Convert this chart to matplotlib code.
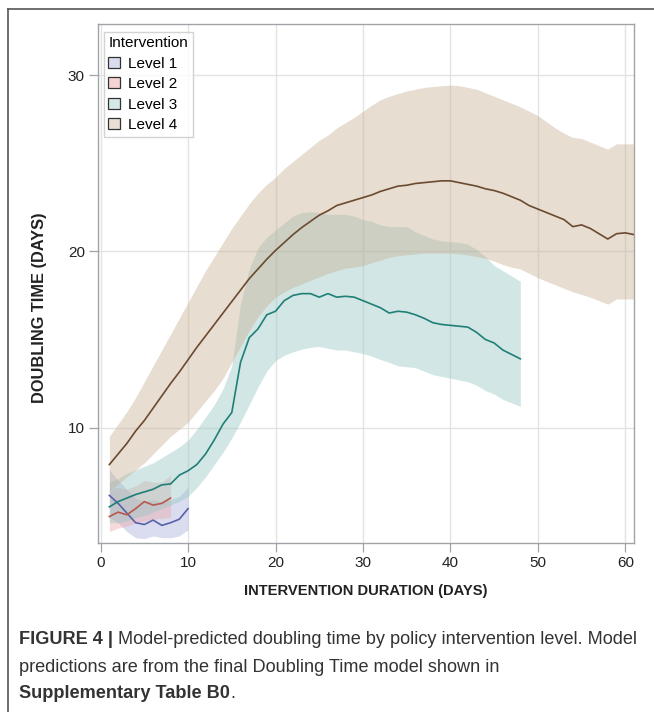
import numpy as np
import matplotlib
matplotlib.use("Agg")
import matplotlib.pyplot as plt
from matplotlib.patches import Patch
from matplotlib.lines import Line2D

plt.rcParams['font.family'] = ['Liberation Sans', 'DejaVu Sans']

# Level 1
days_l1 = [1, 2, 3, 4, 5, 6, 7, 8, 9, 10]
mean_l1 = [6.15, 5.7, 5.15, 4.6, 4.5, 4.75, 4.45, 4.6, 4.8, 5.4]
upper_l1 = [7.6, 7.0, 6.5, 6.0, 5.8, 5.9, 5.8, 5.9, 6.1, 6.6]
lower_l1 = [4.9, 4.6, 4.1, 3.75, 3.7, 3.85, 3.75, 3.75, 3.85, 4.2]

# Level 2
days_l2 = [1, 2, 3, 4, 5, 6, 7, 8]
mean_l2 = [4.95, 5.2, 5.05, 5.4, 5.8, 5.6, 5.7, 6.0]
upper_l2 = [6.5, 6.6, 6.5, 6.7, 7.0, 6.9, 6.9, 7.3]
lower_l2 = [4.1, 4.3, 4.4, 4.6, 4.7, 4.8, 4.85, 4.9]

# Level 3
days_l3 = list(range(1, 49))
mean_l3 = [5.5, 5.8, 6.0, 6.2, 6.35, 6.5, 6.75, 6.8, 7.3, 7.55,
           7.9, 8.5, 9.3, 10.2, 10.85, 13.7, 15.1, 15.6, 16.4, 16.6,
           17.2, 17.5, 17.6, 17.6, 17.4, 17.6, 17.4, 17.45, 17.4, 17.2,
           17.0, 16.8, 16.5, 16.6, 16.55, 16.4, 16.2, 15.95, 15.85, 15.8,
           15.75, 15.7, 15.4, 15.0, 14.8, 14.4, 14.15, 13.9]
upper_l3 = [6.9, 7.1, 7.4, 7.6, 7.8, 8.0, 8.3, 8.6, 8.9, 9.3,
            9.9, 10.6, 11.3, 12.2, 13.5, 17.0, 19.0, 20.2, 20.8, 21.2,
            21.6, 22.0, 22.2, 22.25, 22.2, 22.1, 22.1, 22.1, 22.0, 21.8,
            21.7, 21.5, 21.4, 21.4, 21.4, 21.1, 20.9, 20.7, 20.6, 20.55,
            20.5, 20.4, 20.1, 19.7, 19.2, 18.9, 18.6, 18.3]
lower_l3 = [4.6, 4.6, 4.7, 4.9, 5.0, 5.2, 5.4, 5.6, 5.8, 6.1,
            6.6, 7.2, 7.9, 8.6, 9.4, 10.3, 11.3, 12.3, 13.2, 13.8,
            14.1, 14.3, 14.45, 14.55, 14.6, 14.5, 14.4, 14.4, 14.3, 14.2,
            14.05, 13.86, 13.7, 13.5, 13.45, 13.4, 13.2, 13.0, 12.9, 12.8,
            12.7, 12.6, 12.4, 12.1, 11.9, 11.6, 11.4, 11.2]

# Level 4
days_l4 = list(range(1, 62))
mean_l4 = [7.9, 8.5, 9.1, 9.8, 10.4, 11.1, 11.8, 12.5, 13.15, 13.85,
           14.55, 15.2, 15.85, 16.5, 17.15, 17.8, 18.45, 19.0, 19.55, 20.05,
           20.5, 20.95, 21.35, 21.7, 22.05, 22.3, 22.6, 22.75, 22.9, 23.05,
           23.2, 23.4, 23.55, 23.7, 23.75, 23.85, 23.9, 23.95, 24.0, 24.0,
           23.9, 23.8, 23.7, 23.55, 23.45, 23.3, 23.1, 22.9, 22.6, 22.4,
           22.2, 22.0, 21.8, 21.4, 21.5, 21.3, 21.0, 20.7, 21.0, 21.05, 20.95]
upper_l4 = [9.5, 10.2, 10.9, 11.7, 12.6, 13.5, 14.4, 15.3, 16.2, 17.1,
            18.0, 18.9, 19.7, 20.5, 21.3, 22.0, 22.7, 23.3, 23.8, 24.2,
            24.7, 25.1, 25.5, 25.9, 26.3, 26.6, 27.0, 27.3, 27.6, 27.95,
            28.3, 28.6, 28.8, 28.95, 29.1, 29.2, 29.3, 29.35, 29.4, 29.43,
            29.4, 29.3, 29.2, 29.0, 28.8, 28.6, 28.4, 28.2, 27.95, 27.7,
            27.35, 27.0, 26.7, 26.46, 26.4, 26.2, 26.0, 25.8, 26.1, 26.1, 26.1]
lower_l4 = [6.4, 6.8, 7.2, 7.6, 8.0, 8.5, 9.0, 9.5, 9.9, 10.3,
            10.9, 11.5, 12.1, 12.8, 13.7, 14.6, 15.5, 16.3, 16.9, 17.4,
            17.7, 17.95, 18.15, 18.35, 18.55, 18.75, 18.9, 19.05, 19.1, 19.2,
            19.35, 19.5, 19.66, 19.75, 19.8, 19.85, 19.9, 19.9, 19.9, 19.9,
            19.85, 19.8, 19.7, 19.6, 19.45, 19.25, 19.1, 19.0, 18.75, 18.5,
            18.3, 18.1, 17.9, 17.7, 17.55, 17.4, 17.2, 17.0, 17.3, 17.3, 17.3]

levels = ['Level 1', 'Level 2', 'Level 3', 'Level 4']
# base colours drawn with transparency, SAS style
band_colors = ['#a9aedb', '#eba6a8', '#95c6c2', '#c6ae92']
band_alpha = 0.42
legend_colors = ['#d9dbef', '#f5d3d4', '#d4e8e6', '#e9dfd4']
line_colors = ['#5961a8', '#b8584c', '#1f7f76', '#6b4a2f']

series = [
    (days_l1, mean_l1, lower_l1, upper_l1),
    (days_l2, mean_l2, lower_l2, upper_l2),
    (days_l3, mean_l3, lower_l3, upper_l3),
    (days_l4, mean_l4, lower_l4, upper_l4),
]

fig = plt.figure(figsize=(6.54, 7.12), dpi=100)
ax = fig.add_axes([98 / 654, 1 - 543 / 712, 536 / 654, 519 / 712])

for i, (d, m, lo, hi) in enumerate(series):
    ax.fill_between(d, lo, hi, color=band_colors[i], alpha=band_alpha, linewidth=0, zorder=2 + i)
for i, (d, m, lo, hi) in enumerate(series):
    ax.plot(d, m, color=line_colors[i], linewidth=1.2, zorder=10 + i)

ax.set_xlim(-0.3, 61)
ax.set_ylim(3.45, 32.9)
ax.set_xticks([0, 10, 20, 30, 40, 50, 60])
ax.set_yticks([10, 20, 30])
ax.grid(True, color='#e3e3e3', linewidth=1.0, zorder=0)
ax.set_axisbelow(True)
for s in ax.spines.values():
    s.set_color('#a0a4a8')
    s.set_linewidth(1.0)
ax.tick_params(axis='both', colors='#a0a4a8', labelcolor='#222222', labelsize=11,
               length=6.5, width=0.9, pad=3)

renderer = fig.canvas.get_renderer()


def fit_width(t, target_px):
    # scale a text so that it spans the same width as in the original
    w = t.get_window_extent(renderer=renderer)
    span = w.height if t.get_rotation() == 90 else w.width
    t.set_fontsize(t.get_fontsize() * target_px / span)


xl = fig.text(366 / 654, 1 - 591 / 712, 'INTERVENTION DURATION (DAYS)', ha='center', va='center',
              fontsize=10, fontweight='bold', color='#222222')
fit_width(xl, 242)
yl = fig.text(40 / 654, 1 - 308 / 712, 'DOUBLING TIME (DAYS)', ha='center', va='center',
              rotation=90, fontsize=10, fontweight='bold', color='#222222')
fit_width(yl, 190)

handles = [Patch(facecolor=legend_colors[i], edgecolor='#333333', linewidth=0.9) for i in range(4)]
leg = ax.legend(handles, levels, title='Intervention', loc='upper left',
                bbox_to_anchor=(0.011, 0.985), fontsize=11, title_fontsize=11,
                frameon=True, fancybox=False, handlelength=0.75, handleheight=0.75,
                handletextpad=0.55, borderpad=0.3, labelspacing=0.42, borderaxespad=0)
leg.get_frame().set_edgecolor('#c8c8c8')
leg.get_frame().set_linewidth(1.0)
leg._legend_box.align = 'left'

# outer frame lines
fig.add_artist(Line2D([7.5 / 654, 7.5 / 654], [0, 1 - 8.5 / 712], color='#555555', linewidth=1.2))
fig.add_artist(Line2D([7.5 / 654, 1], [1 - 8.5 / 712, 1 - 8.5 / 712], color='#555555', linewidth=1.2))

# caption
caption = [
    [('FIGURE 4 | ', True), ('Model-predicted doubling time by policy intervention level. Model', False)],
    [('predictions are from the final Doubling Time model shown in', False)],
    [('Supplementary Table B0', True), ('.', False)],
]
caption_y = [640, 667, 693]

# find the font size that makes the first line as wide as in the original
probe = 11.0
w = 0
for txt, bold in caption[0]:
    t = fig.text(0, 0, txt, fontsize=probe, fontweight='bold' if bold else 'normal')
    w += t.get_window_extent(renderer=renderer).width
    t.remove()
cap_size = probe * 618 / w


def rich_line(y, parts):
    x = 19 / 654
    for txt, bold in parts:
        t = fig.text(x, y, txt, fontsize=cap_size, fontweight='bold' if bold else 'normal',
                     color='#333333', va='center', ha='left')
        bb = t.get_window_extent(renderer=renderer)
        x += bb.width / fig.bbox.width


for parts, yy in zip(caption, caption_y):
    rich_line(1 - yy / 712, parts)

fig.savefig('out.png', dpi=100)
